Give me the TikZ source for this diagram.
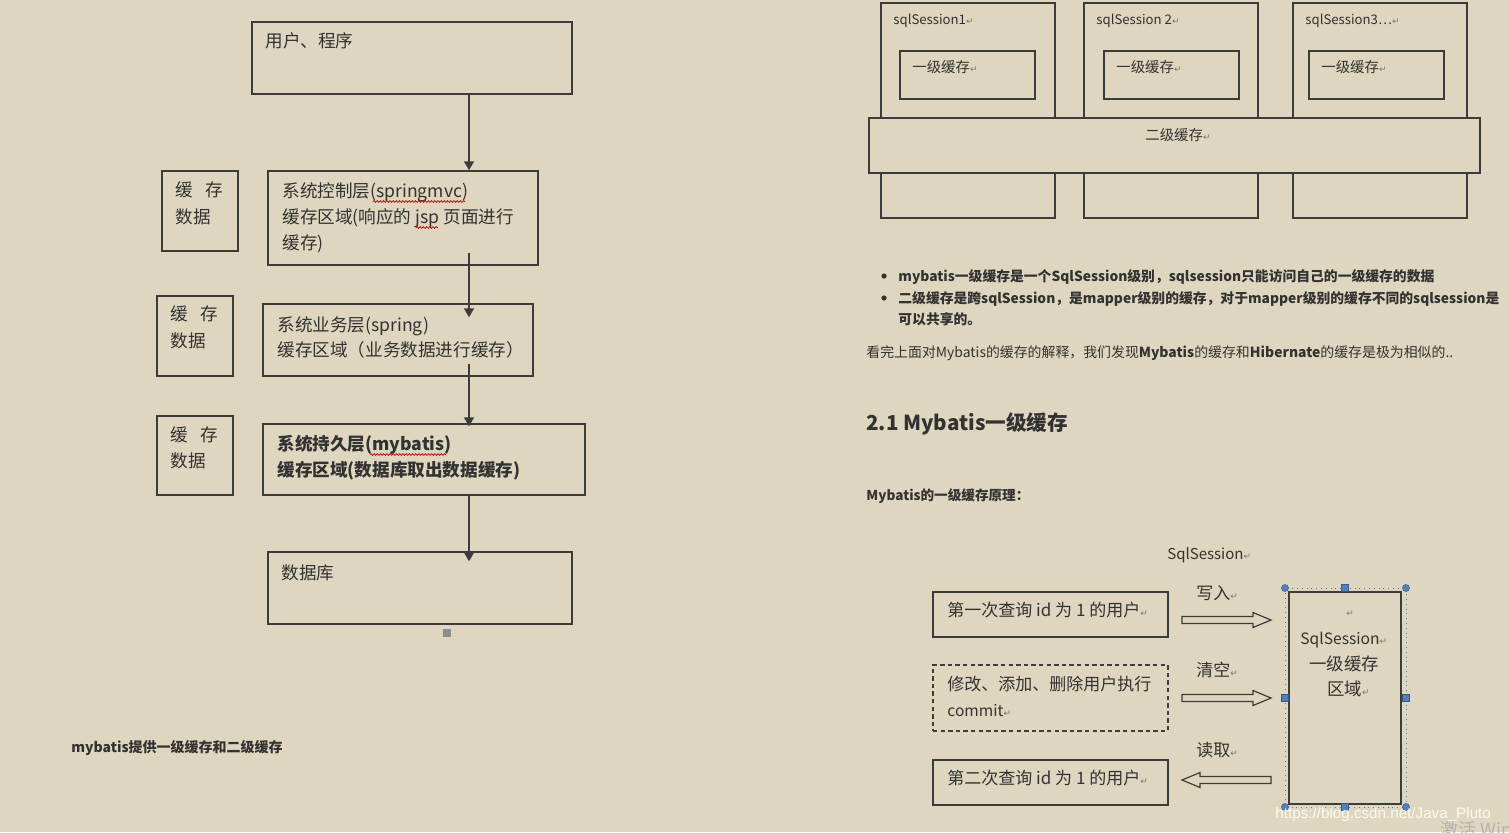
\documentclass[tikz,border=0pt]{standalone}
\usepackage{fontspec}
\setmainfont{Noto Sans CJK SC}
\newfontfamily\symfont{DejaVu Sans}
\newfontfamily\wmfont{Liberation Sans}
\usetikzlibrary{arrows.meta,fit,calc,decorations.pathmorphing}
\definecolor{paper}{RGB}{222,214,190}
\definecolor{ink}{RGB}{50,50,50}
\definecolor{edge}{RGB}{60,60,60}
\definecolor{handle}{RGB}{79,129,189}
\definecolor{retgray}{RGB}{120,120,120}
\newcommand\retmark{{\symfont\fontsize{4.5}{5}\selectfont\textcolor{retgray}{↵}}}
\newcommand\fs[1]{\fontsize{#1}{#1}\selectfont}
\tikzset{
  box/.style={draw=edge, line width=0.7pt, inner sep=0pt},
  fillbox/.style={box, fill=paper},
  dashbox/.style={box, dash pattern=on 2.2pt off 1.6pt},
  txt/.style={anchor=base west, inner sep=0pt, text=ink},
  lefttxt/.style={txt, font=\fs{8.8}},
  boldtxt/.style={txt, font=\fs{6.9}\bfseries},
  sesstxt/.style={txt, font=\fs{6.6}},
  flowtxt/.style={txt, font=\fs{8.5}},
  arr/.style={draw=edge, line width=0.7pt, -{Triangle[width=5pt,length=4.5pt]}},
  spell/.style={draw=red!75!black, line width=0.35pt, decorate,
    decoration={snake, amplitude=0.45pt, segment length=1.6pt}},
  hollowarrow/.pic={
    \draw[edge, line width=0.6pt, fill=paper]
      (0,-3.5) -- (71,-3.5) -- (71,-7.5) -- (89,0) -- (71,7.5) -- (71,3.5) -- (0,3.5) -- cycle;
  },
  grip/.style={fill=handle, draw=handle!70!black, line width=0.2pt}
}
\begin{document}
\begin{tikzpicture}[x=0.5pt, y=-0.5pt]
  \fill[paper] (0,0) rectangle (1509,832);
  \useasboundingbox (0,0) rectangle (1509,832);

  % left column: layers
  \coordinate (axis) at (469,0);
  \node[box, fit={(252,22) (572,94)}] (user) {};
  \node[lefttxt] (usert) at (265,47) {用户、程序};

  \node[box, fit={(268,171) (538,265)}] (ctrl) {};
  \node[lefttxt] (ctrla) at (282,197) {系统控制层(springmvc)};
  \node[lefttxt] (ctrlb) at (282,223) {缓存区域(响应的 jsp 页面进行};
  \node[lefttxt] (ctrlc) at (282,249) {缓存)};
  \draw[spell] (373,201.5) -- (465,201.5);
  \draw[spell] (416,227.5) -- (438,227.5);

  \node[box, fit={(263,304) (533,376)}] (biz) {};
  \node[lefttxt] (biza) at (277,331) {系统业务层(spring)};
  \node[lefttxt] (bizb) at (277,356) {缓存区域（业务数据进行缓存）};

  \node[box, fit={(263,424) (585,495)}] (persist) {};
  \node[lefttxt, font=\fs{8.8}\bfseries] (persista) at (277,450) {系统持久层(mybatis)};
  \node[lefttxt, font=\fs{8.8}\bfseries] (persistb) at (277,476) {缓存区域(数据库取出数据缓存)};
  \draw[spell] (370,454.5) -- (446,454.5);

  \node[box, fit={(268,552) (572,624)}] (db) {};
  \node[lefttxt] (dbt) at (281,579) {数据库};

  % cache side boxes
  \node[box, fit={(162,171) (238,251)}] (cachea) {};
  \node[lefttxt] at (175,196) {缓\hspace{6.5pt}存};
  \node[lefttxt] at (175,223) {数据};
  \node[box, fit={(157,296) (233,376)}] (cacheb) {};
  \node[lefttxt] at (170,320) {缓\hspace{6.5pt}存};
  \node[lefttxt] at (170,347) {数据};
  \node[box, fit={(157,416) (233,495)}] (cachec) {};
  \node[lefttxt] at (170,441) {缓\hspace{6.5pt}存};
  \node[lefttxt] at (170,467) {数据};

  \draw[arr] (user.south -| axis) -- (ctrl.north -| axis);
  \draw[arr] ($(ctrl.south -| axis)+(0,-13)$) -- ($(biz.north -| axis)+(0,14)$);
  \draw[arr] ($(biz.south -| axis)+(0,-13)$) -- ($(persist.north -| axis)+(0,3)$);
  \draw[arr] (persist.south -| axis) -- ($(db.north -| axis)+(0,10)$);
  \fill[black!45] (443,629) rectangle (451,637);

  \node[boldtxt, font=\fs{7}\bfseries] (summary) at (71,752) {mybatis提供一级缓存和二级缓存};

  % right top: sessions and second level cache
  \foreach \i/\x/\ix/\lab in {1/881/900/sqlSession1, 2/1084/1104/sqlSession 2, 3/1293/1309/sqlSession3\ldots} {
    \node[box, fit={(\x,3) (\x+174,218)}] (sess\i) {};
    \node[box, fit={(\ix,51) (\ix+135,99)}] (lone\i) {};
    \node[sesstxt] at (\x+12,24) {\lab\retmark};
    \node[sesstxt, font=\fs{7.2}] at (\ix+12,72.5) {一级缓存\retmark};
  }
  \node[fillbox, fit={(869,118) (1480,173)}] (ltwo) {};
  \node[sesstxt, font=\fs{7.2}] at (1145,140) {二级缓存\retmark};

  % notes
  \fill[ink] (884,276) circle[radius=1.3pt];
  \fill[ink] (884,298) circle[radius=1.3pt];
  \node[boldtxt] at (898,281) {mybatis一级缓存是一个SqlSession级别，sqlsession只能访问自己的一级缓存的数据};
  \node[boldtxt] at (898,303) {二级缓存是跨sqlSession，是mapper级别的缓存，对于mapper级别的缓存不同的sqlsession是};
  \node[boldtxt] at (898,324) {可以共享的。};
  \node[txt, font=\fs{6.95}] at (866,357) {看完上面对Mybatis的缓存的解释，我们发现\textbf{Mybatis}的缓存和\textbf{Hibernate}的缓存是极为相似的..};
  \node[txt, font=\fs{10.3}\bfseries] at (866,430) {2.1 Mybatis一级缓存};
  \node[boldtxt, font=\fs{6.8}\bfseries] at (866,500) {Mybatis的一级缓存原理：};

  % right bottom: first level cache flow
  \node[txt, font=\fs{7.5}] (sqltitle) at (1167,559) {SqlSession\retmark};
  \node[box, fit={(933,592) (1168,637)}] (qone) {};
  \node[flowtxt] at (947,616.5) {第一次查询 id 为 1 的用户\retmark};
  \node[dashbox, fit={(933,665) (1168,731)}] (modify) {};
  \node[flowtxt] at (947,690.5) {修改、添加、删除用户执行};
  \node[flowtxt, font=\fs{7.8}] at (947,716) {commit\retmark};
  \node[box, fit={(933,760) (1168,805)}] (qtwo) {};
  \node[flowtxt] at (947,784.5) {第二次查询 id 为 1 的用户\retmark};

  \node[flowtxt] at (1196,599.5) {写入\retmark};
  \node[flowtxt] at (1196,676.5) {清空\retmark};
  \node[flowtxt] at (1196,756.5) {读取\retmark};
  \pic at (1182,620) {hollowarrow};
  \pic at (1182,698) {hollowarrow};
  \pic[rotate=180] at (1271,780) {hollowarrow};

  \node[box, fit={(1289,592) (1401,804)}] (lcache) {};
  \node[txt] at (1346,616) {\retmark};
  \node[flowtxt, font=\fs{7.8}] at (1300,644) {SqlSession\retmark};
  \node[flowtxt, font=\fs{8.7}] at (1309,670.5) {一级缓存};
  \node[flowtxt, font=\fs{8.7}] at (1327,695.5) {区域\retmark};

  % selection frame
  \draw[handle, line width=0.4pt, dotted] (1285,588) rectangle (1406,807);
  \foreach \p in {(1285,588), (1406,588), (1285,807), (1406,807)}
    \draw[grip] \p circle[radius=1.8pt];
  \foreach \p in {(1345,588), (1345,807), (1285,698), (1406,698)}
    \draw[grip] \p ++(-3.5,-3.5) rectangle ++(7,7);

  % watermark
  \node[txt, text=white, opacity=0.85, font=\wmfont\fs{7.6}] at (1275,818) {https://blog.csdn.net/Java\_Pluto};
  \node[txt, text=black!30, font=\fs{9}] at (1440,836) {激活 Windows};
\end{tikzpicture}
\end{document}
